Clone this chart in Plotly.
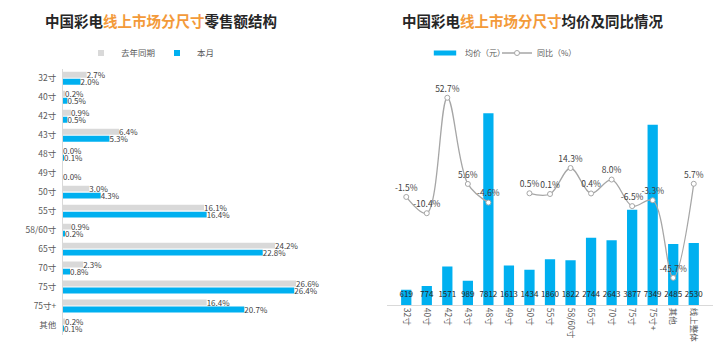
import plotly.graph_objects as go

# ---------------- data ----------------
left_categories = ["32寸", "40寸", "42寸", "43寸", "48寸", "49寸", "50寸", "55寸",
                   "58/60寸", "65寸", "70寸", "75寸", "75寸+", "其他"]
last_year_share = [2.7, 0.2, 0.9, 6.4, 0.0, None, 3.0, 16.1, 0.9, 24.2, 2.3, 26.6, 16.4, 0.2]
this_month_share = [2.0, 0.5, 0.5, 5.3, 0.1, 0.0, 4.3, 16.4, 0.2, 22.8, 0.8, 26.4, 20.7, 0.1]

right_categories = ["32寸", "40寸", "42寸", "43寸", "48寸", "49寸", "50寸", "55寸",
                    "58/60寸", "65寸", "70寸", "75寸", "75寸+", "其他", "线上整体"]
avg_price = [619, 774, 1571, 989, 7812, 1613, 1434, 1860, 1822, 2744, 2643, 3877, 7349, 2485, 2530]
yoy_pct = [-1.5, -10.4, 52.7, 5.6, -4.6, None, 0.5, 0.1, 14.3, 0.4, 8.0, -6.5, -3.3, -45.7, 5.7]

# ---------------- style ----------------
W, H = 720, 349
BLUE = "#00B0F0"
GRAY = "#D9D9D9"
LINE = "#A6A6A6"
TXT = "#404040"
FONT = "Noto Sans CJK SC"
ORANGE = "#F39A3A"


def px_x(p):
    return p / W


def px_y(p):
    return 1 - p / H


def pct(v):
    return "" if v is None else f"{v:.1f}%"


fig = go.Figure()

# ---------- left chart: horizontal bars ----------
fig.add_trace(go.Bar(
    y=left_categories, x=last_year_share, orientation="h", name="去年同期",
    marker=dict(color=GRAY, line=dict(width=0)), width=0.31, offset=-0.34,
    text=[pct(v) for v in last_year_share], textposition="outside", constraintext="none",
    textfont=dict(size=8, color=TXT, family=FONT), cliponaxis=False,
    xaxis="x", yaxis="y", showlegend=False,
))
fig.add_trace(go.Bar(
    y=left_categories, x=this_month_share, orientation="h", name="本月",
    marker=dict(color=BLUE, line=dict(width=0)), width=0.31, offset=0.03,
    text=[pct(v) for v in this_month_share], textposition="outside", constraintext="none",
    textfont=dict(size=8, color=TXT, family=FONT), cliponaxis=False,
    xaxis="x", yaxis="y", showlegend=False,
))

# ---------- right chart: price bars + yoy line ----------
fig.add_trace(go.Bar(
    x=right_categories, y=avg_price, name="均价（元）",
    marker=dict(color=BLUE, line=dict(width=0)), width=0.5,
    xaxis="x2", yaxis="y2", showlegend=False,
))
fig.add_trace(go.Scatter(
    x=right_categories, y=[400] * len(avg_price), mode="text",
    text=[str(v) for v in avg_price], textposition="middle center",
    textfont=dict(size=8, color="#262626", family=FONT),
    showlegend=False, hoverinfo="skip", cliponaxis=False,
    xaxis="x2", yaxis="y2",
))
fig.add_trace(go.Scatter(
    x=right_categories, y=yoy_pct, name="同比（%）", mode="lines+markers+text",
    line=dict(color=LINE, width=1.3, shape="spline", smoothing=1.0),
    marker=dict(symbol="circle", size=5, color="white", line=dict(color=LINE, width=1)),
    text=[pct(v) for v in yoy_pct], textposition="top center",
    textfont=dict(size=8.5, color=TXT, family=FONT), connectgaps=False,
    cliponaxis=False, xaxis="x2", yaxis="y3", legend="legend4",
))

# legend keys (one legend per key so each sits where the original has it)
fig.add_trace(go.Scatter(x=[None], y=[None], mode="markers", name="去年同期",
                         marker=dict(symbol="square", size=6, color=GRAY),
                         xaxis="x", yaxis="y", legend="legend"))
fig.add_trace(go.Scatter(x=[None], y=[None], mode="markers", name="本月",
                         marker=dict(symbol="square", size=6, color=BLUE),
                         xaxis="x", yaxis="y", legend="legend2"))
fig.add_trace(go.Scatter(x=[None], y=[None], mode="markers", name="均价（元）",
                         marker=dict(symbol="line-ew", size=16, color=BLUE,
                                     line=dict(color=BLUE, width=5)),
                         xaxis="x2", yaxis="y2", legend="legend3"))

# ---------- axes ----------
left_dom_x = [px_x(63), px_x(340)]
left_range_max = (340 - 63) / 8.76
fig.update_layout(
    xaxis=dict(domain=left_dom_x, range=[0, left_range_max], visible=False, fixedrange=True),
    yaxis=dict(domain=[px_y(334.5), px_y(68.8)], type="category",
               categoryorder="array", categoryarray=left_categories,
               range=[13.5, -0.5], showline=True, linecolor=GRAY, linewidth=1,
               ticks="", showgrid=False, zeroline=False,
               tickfont=dict(size=8.5, color="#595959", family=FONT), ticklabelstandoff=4),
    xaxis2=dict(domain=[px_x(386.8), px_x(713.2)], anchor="y2", type="category",
                categoryorder="array", categoryarray=right_categories,
                showline=True, linecolor=GRAY, linewidth=1, ticks="", showgrid=False,
                tickangle=90, tickfont=dict(size=8.5, color="#595959", family=FONT)),
    yaxis2=dict(domain=[px_y(305), px_y(70)], range=[0, 235 / 0.02454],
                visible=False, showgrid=False, zeroline=False),
    yaxis3=dict(overlaying="y2", range=[(194.2 - 305) / 1.83, (194.2 - 70) / 1.83],
                visible=False, showgrid=False, zeroline=False),
)


def leg(x_left, size=8.5):
    return dict(orientation="h", x=px_x(x_left), y=px_y(53), xanchor="left",
                yanchor="middle", font=dict(size=size, color="#595959", family=FONT),
                itemwidth=30, bgcolor="rgba(0,0,0,0)")


# ---------- layout, legends, titles ----------
fig.update_layout(
    width=W, height=H, margin=dict(l=0, r=0, t=0, b=0),
    paper_bgcolor="white", plot_bgcolor="white",
    barmode="overlay", showlegend=True,
    font=dict(family=FONT, size=9, color=TXT),
    legend=leg(81), legend2=leg(157), legend3=leg(425, 8), legend4=leg(497, 8),
    annotations=[
        dict(x=px_x(161), y=px_y(20), xref="paper", yref="paper", showarrow=False,
             xanchor="center", yanchor="middle",
             text=f"<b>中国彩电<span style='color:{ORANGE}'>线上市场分尺寸</span>零售额结构</b>",
             font=dict(size=14.5, color="#262626", family=FONT)),
        dict(x=px_x(532), y=px_y(20), xref="paper", yref="paper", showarrow=False,
             xanchor="center", yanchor="middle",
             text=f"<b>中国彩电<span style='color:{ORANGE}'>线上市场分尺寸</span>均价及同比情况</b>",
             font=dict(size=14.5, color="#262626", family=FONT)),
    ],
)

fig.write_html("out.html")
